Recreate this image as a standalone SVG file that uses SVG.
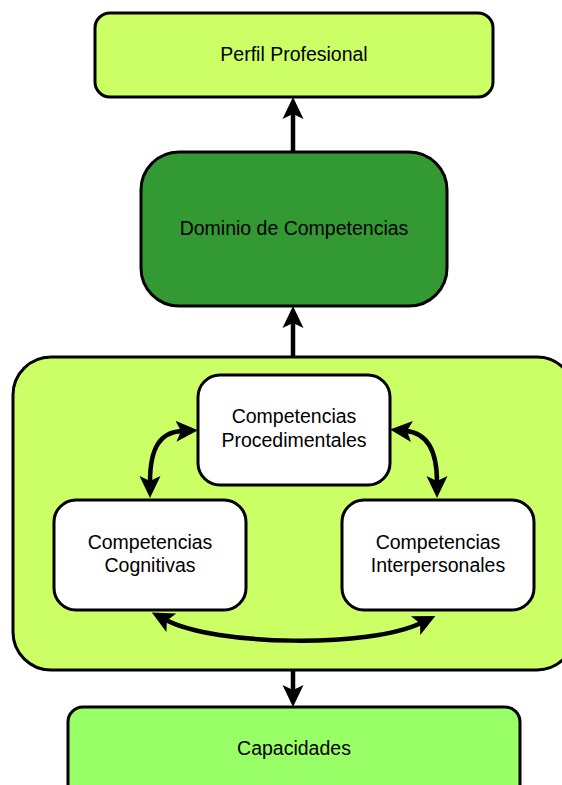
<svg xmlns="http://www.w3.org/2000/svg" width="562" height="785" viewBox="0 0 562 785">
<style>
.box{stroke:#000;stroke-width:3}
.t{font-family:"Liberation Sans",Arial,sans-serif;font-size:19.5px;fill:#000;text-anchor:middle}
.c{fill:none;stroke:#000;stroke-width:4.5}
</style>
<defs>
<marker id="ah" viewBox="0 0 22 22" markerWidth="22" markerHeight="22" markerUnits="userSpaceOnUse" refX="6" refY="11" orient="auto-start-reverse">
<path d="M0,0.5 L22,11 L0,21.5 L5,11 z" fill="#000"/>
</marker>
</defs>
<rect width="562" height="785" fill="#fff"/>
<g id="perfil">
<rect class="box" x="95" y="13" width="398" height="84" rx="15" fill="#CCFF66"/>
<text class="t" x="294" y="61">Perfil Profesional</text>
</g>
<g id="dominio">
<rect class="box" x="141" y="152" width="306" height="154" rx="38" fill="#339933"/>
<text class="t" x="294" y="235">Dominio de Competencias</text>
</g>
<g id="grupo">
<rect class="box" x="13" y="357" width="562" height="313" rx="38" fill="#CCFF66"/>
</g>
<g id="procedimentales">
<rect class="box" x="198" y="375" width="192" height="110" rx="22" fill="#fff"/>
<text class="t" x="294" y="423">Competencias</text>
<text class="t" x="294" y="447">Procedimentales</text>
</g>
<g id="cognitivas">
<rect class="box" x="54" y="500" width="192" height="110" rx="22" fill="#fff"/>
<text class="t" x="150" y="549">Competencias</text>
<text class="t" x="150" y="572">Cognitivas</text>
</g>
<g id="interpersonales">
<rect class="box" x="342" y="500" width="192" height="110" rx="22" fill="#fff"/>
<text class="t" x="438" y="549">Competencias</text>
<text class="t" x="438" y="572">Interpersonales</text>
</g>
<g id="capacidades">
<rect class="box" x="68" y="707" width="452" height="100" rx="15" fill="#99FF66"/>
<text class="t" x="294" y="755">Capacidades</text>
</g>
<g id="connectors">
<path class="c" d="M293,152 L293,113" marker-end="url(#ah)"/>
<path class="c" d="M293,357 L293,322" marker-end="url(#ah)"/>
<path class="c" d="M293,670 L293,691" marker-end="url(#ah)"/>
<path class="c" d="M150,482 C150,448 160,432 182,431" marker-start="url(#ah)" marker-end="url(#ah)"/>
<path class="c" d="M406,431 C428,433 437,452 437,482" marker-start="url(#ah)" marker-end="url(#ah)"/>
<path class="c" d="M166,620 C215,646 370,648 421,623" marker-start="url(#ah)" marker-end="url(#ah)"/>
</g>
</svg>
